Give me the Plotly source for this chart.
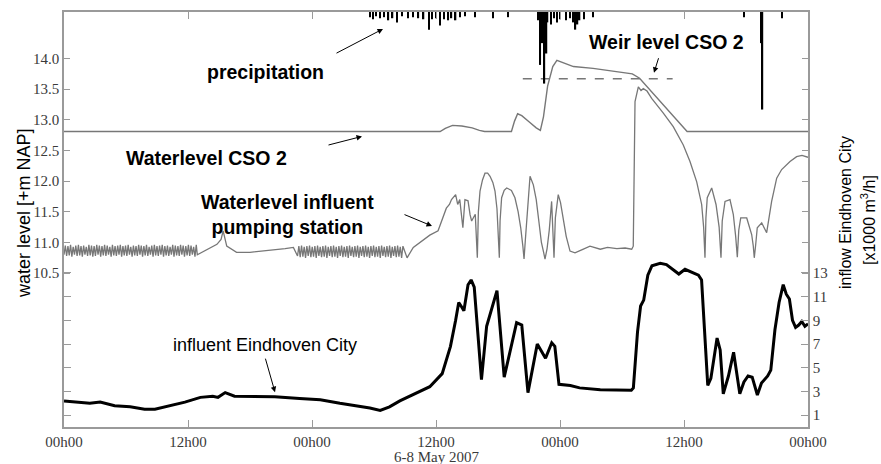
import plotly.graph_objects as go

# ---------------- data ----------------
# time axis in hours from 6 May 2007 00h00
tick_hours = [0, 12, 24, 36, 48, 60, 72]
tick_text = ["00h00", "12h00", "00h00", "12h00", "00h00", "12h00", "00h00"]
level_ticks = [10.5, 11.0, 11.5, 12.0, 12.5, 13.0, 13.5, 14.0]
inflow_ticks = [1, 3, 5, 7, 9, 11, 13]

# precipitation (mm per interval)
rain_t = [29.6, 29.9, 30.2, 30.6, 31.0, 31.4, 31.8, 32.2, 32.7, 33.3, 33.8, 34.3, 34.8,
          35.3, 35.6, 36.0, 36.4, 36.8, 37.2, 37.5, 37.9, 38.3, 38.8, 39.8, 41.5, 43.0,
          45.9, 46.1, 46.3, 46.5, 46.7, 46.8, 47.1, 47.4, 47.7, 48.0, 48.6, 49.0, 49.3,
          49.5, 49.7, 49.9, 50.3, 51.2, 65.8, 67.5, 67.6, 69.5]
rain_mm = [0.05, 0.07, 0.04, 0.06, 0.05, 0.08, 0.06, 0.10, 0.04, 0.06, 0.05, 0.06, 0.07,
           0.17, 0.07, 0.06, 0.13, 0.07, 0.08, 0.06, 0.08, 0.05, 0.04, 0.05, 0.06, 0.05,
           0.08, 0.51, 0.30, 0.69, 0.40, 0.10, 0.12, 0.06, 0.10, 0.07, 0.08, 0.06, 0.10,
           0.17, 0.12, 0.08, 0.07, 0.05, 0.05, 0.30, 0.94, 0.06]

# water level at CSO 2 [m NAP]
cso_t = [0, 36.4, 36.9, 37.6, 38.5, 39.5, 40.2, 40.7, 43.3, 43.6, 43.9, 44.3, 45.0, 45.7,
         46.1, 46.4, 46.8, 47.3, 47.7, 48.3, 49.3, 51.2, 53.0, 55.0, 55.7, 60.3, 72]
cso_lvl = [12.81, 12.81, 12.86, 12.91, 12.90, 12.87, 12.83, 12.81, 12.81, 12.98, 13.10,
           13.07, 12.97, 12.87, 12.83, 13.05, 13.55, 13.87, 13.97, 13.93, 13.87, 13.84,
           13.80, 13.75, 13.68, 12.81, 12.81]

# weir crest level CSO 2
weir_t = [44.4, 58.9]
weir_lvl = [13.67, 13.67]

# water level influent pumping station [m NAP]
# pump on/off cycling periods, logged at regular intervals
osc1_start, osc1_end = 0.0, 12.8
osc1_lvl = [10.80, 10.95, 10.78, 10.94, 10.79, 10.96, 10.77, 10.93, 10.80, 10.95, 10.78, 10.96,
            10.79, 10.94, 10.77, 10.95, 10.80, 10.93, 10.78, 10.96, 10.79, 10.95, 10.77, 10.94,
            10.78, 10.96, 10.80, 10.95, 10.77, 10.94, 10.79, 10.96, 10.78, 10.95, 10.80, 10.93,
            10.77, 10.96, 10.79, 10.94, 10.78, 10.95, 10.80, 10.96, 10.77, 10.94, 10.79, 10.95,
            10.78, 10.96, 10.80, 10.93, 10.77, 10.95, 10.79, 10.94, 10.78, 10.96, 10.80, 10.95,
            10.77, 10.94, 10.79, 10.96, 10.78, 10.93, 10.80, 10.95, 10.77, 10.96, 10.79, 10.94,
            10.78, 10.95, 10.80, 10.96, 10.77, 10.94, 10.79, 10.95, 10.78, 10.93, 10.80, 10.96,
            10.77, 10.95, 10.79, 10.94, 10.78, 10.96, 10.80, 10.95, 10.77, 10.94, 10.79, 10.96,
            10.78, 10.95, 10.80, 10.93, 10.77, 10.96]
osc2_start, osc2_end = 22.6, 32.8
osc2_lvl = [10.78, 10.94, 10.76, 10.95, 10.77, 10.93, 10.75, 10.94, 10.78, 10.95, 10.76, 10.93,
            10.77, 10.94, 10.75, 10.95, 10.78, 10.93, 10.76, 10.94, 10.77, 10.95, 10.75, 10.93,
            10.78, 10.94, 10.76, 10.95, 10.77, 10.93, 10.75, 10.94, 10.78, 10.95, 10.76, 10.93,
            10.77, 10.94, 10.75, 10.95, 10.78, 10.93, 10.76, 10.94, 10.77, 10.95, 10.75, 10.93,
            10.78, 10.94, 10.76, 10.95, 10.77, 10.93, 10.75, 10.94, 10.78, 10.95, 10.76, 10.93,
            10.77, 10.94, 10.75, 10.95, 10.78, 10.93, 10.76, 10.94, 10.77, 10.95, 10.75, 10.93,
            10.78, 10.94, 10.76, 10.95, 10.77, 10.93, 10.75, 10.94]
mid_t = [12.9, 14.0, 14.8, 15.2, 15.4, 15.75, 16.7, 18.0, 19.9, 21.4, 22.2]
mid_lvl = [10.80, 10.90, 10.97, 11.05, 11.19, 10.94, 10.84, 10.84, 10.87, 10.90, 10.92]
storm_t = [33.2, 33.8, 34.2, 34.8, 35.4, 36.2, 36.55, 37.0, 37.3, 37.5, 37.9, 38.1, 38.3,
           38.6, 38.8, 39.1, 39.3, 39.45, 39.8, 40.0, 40.1, 40.26, 40.5, 40.74, 41.0, 41.23,
           41.5, 41.71, 41.9, 42.05, 42.13, 42.2, 42.35, 42.6, 42.84, 43.3, 43.64, 43.95,
           44.2, 44.4, 44.52, 44.65, 44.84, 45.1, 45.42, 45.7, 45.95, 46.2, 46.4, 46.55,
           46.75, 46.96, 47.19, 47.3, 47.42, 47.55, 47.83, 48.05, 48.32, 48.6, 48.97, 49.45,
           50.1, 50.9, 51.9, 52.6, 53.5, 54.3, 54.94, 55.09, 55.26, 55.58, 55.84, 56.06,
           56.42, 56.87, 58.0, 58.96, 59.93, 60.58, 61.23, 61.71, 61.9, 62.03, 62.12, 62.25,
           62.68, 63.1, 63.4, 63.58, 63.7, 63.97, 64.45, 64.77, 65.0, 65.16, 65.3, 65.49,
           66.07, 66.55, 66.7, 66.8, 66.93, 67.09, 67.52, 68.0, 68.48, 68.97, 69.45, 70.26,
           70.9, 71.42, 72.0]
storm_lvl = [10.75, 10.92, 10.97, 11.05, 11.12, 11.19, 11.35, 11.56, 11.62, 11.70, 11.78,
             11.62, 11.70, 11.24, 11.70, 11.68, 11.45, 11.35, 11.46, 10.75, 11.50, 11.84,
             12.02, 12.13, 12.13, 12.08, 11.98, 11.84, 11.55, 11.10, 10.75, 11.35, 11.73,
             11.85, 11.89, 11.85, 11.73, 11.50, 11.24, 10.95, 10.73, 11.05, 11.51, 12.08,
             11.94, 11.70, 11.35, 11.00, 10.85, 10.73, 10.90, 11.20, 11.67, 11.25, 10.75,
             11.40, 11.78, 11.65, 11.40, 11.10, 10.86, 10.83, 10.88, 10.94, 10.89, 10.92,
             10.90, 10.91, 10.89, 10.94, 13.30, 13.54, 13.48, 13.51, 13.47, 13.35, 13.11,
             12.89, 12.59, 12.32, 11.99, 11.62, 11.25, 10.75, 11.40, 11.73, 11.89, 11.62,
             11.25, 10.75, 11.35, 11.67, 11.70, 11.46, 11.10, 10.76, 11.20, 11.40, 11.40,
             11.13, 10.95, 10.75, 10.95, 11.24, 11.32, 11.16, 11.67, 12.05, 12.19, 12.32,
             12.40, 12.42, 12.39]

# influent flow Eindhoven City [x1000 m3/h]
infl_t = [0, 1.06, 2.5, 3.5, 4.9, 6.4, 7.8, 8.8, 10.3, 11.7, 13.2, 14.4, 14.9, 15.6, 16.5,
          19.0, 20.4, 22.8, 24.8, 26.7, 28.2, 29.6, 30.6, 31.5, 32.5, 34.0, 35.4, 36.6,
          37.4, 37.9, 38.2, 38.5, 38.7, 39.1, 39.4, 39.7, 40.4, 40.9, 41.9, 42.6, 43.4,
          43.8, 44.3, 44.9, 45.8, 46.6, 47.2, 47.5, 47.9, 49.0, 49.9, 51.9, 54.9, 55.1,
          55.5, 55.8, 56.1, 56.5, 56.9, 57.7, 58.3, 59.1, 59.5, 60.1, 60.8, 61.4, 61.7,
          62.3, 62.6, 63.2, 63.5, 63.8, 64.3, 64.8, 65.4, 65.8, 66.2, 66.6, 67.1, 67.5,
          68.1, 68.4, 68.8, 69.2, 69.6, 69.9, 70.2, 70.5, 70.8, 71.1, 71.4, 71.7, 72.0]
infl_q = [2.2, 2.1, 2.0, 2.1, 1.8, 1.7, 1.5, 1.5, 1.8, 2.1, 2.5, 2.6, 2.5, 2.9, 2.6,
          2.6, 2.55, 2.4, 2.3, 2.0, 1.8, 1.6, 1.4, 1.7, 2.2, 2.8, 3.4, 4.5,
          6.8, 9.0, 10.5, 10.1, 9.8, 12.0, 12.4, 11.8, 4.0, 8.5, 11.5, 4.2, 7.2,
          8.8, 8.6, 2.9, 7.0, 5.8, 7.1, 6.8, 3.6, 3.5, 3.3, 3.15, 3.1, 3.3,
          8.0, 10.2, 10.7, 12.8, 13.6, 13.8, 13.7, 13.2, 12.9, 13.3, 13.0, 12.8, 12.4,
          3.5, 4.1, 7.5, 6.5, 2.8, 4.3, 6.3, 2.8, 3.8, 4.3, 4.2, 2.7, 3.7,
          4.3, 4.8, 8.2, 10.5, 12.0, 11.2, 10.8, 9.0, 8.4, 8.6, 8.9, 8.5, 8.7]


def spread(start, end, values):
    n = len(values)
    return [start + i * (end - start) / (n - 1) for i in range(n)]


pump_t = spread(osc1_start, osc1_end, osc1_lvl) + mid_t + spread(osc2_start, osc2_end, osc2_lvl) + storm_t
pump_lvl = osc1_lvl + mid_lvl + osc2_lvl + storm_lvl

# ---------------- figure ----------------
W, H = 881, 464
L, R, T, B = 64, 73, 10, 37
PW, PH = W - L - R, H - T - B

GREY = "#777777"
AXIS = "#9a9a9a"
TICKFONT = dict(family="Liberation Serif", size=15, color="#3a3a3a")
SANS = "Liberation Sans, Arial"

fig = go.Figure()
fig.add_trace(go.Scatter(x=infl_t, y=infl_q, yaxis="y2", mode="lines",
                         line=dict(color="black", width=3), hoverinfo="skip"))
fig.add_trace(go.Scatter(x=pump_t, y=pump_lvl, mode="lines",
                         line=dict(color=GREY, width=1.3), hoverinfo="skip"))
fig.add_trace(go.Scatter(x=cso_t, y=cso_lvl, mode="lines",
                         line=dict(color=GREY, width=1.4), hoverinfo="skip"))
fig.add_trace(go.Scatter(x=weir_t, y=weir_lvl, mode="lines",
                         line=dict(color=GREY, width=1.4, dash="dash"), hoverinfo="skip"))
fig.add_trace(go.Bar(x=rain_t, y=rain_mm, yaxis="y3", width=0.13,
                     marker=dict(color="black", line=dict(width=0)), hoverinfo="skip"))


def px(xp, yp):
    """pixel position -> paper coordinates"""
    return (xp - L) / PW, (T + PH - yp) / PH


annotations = []


def label(text, xp, yp, size=19.5, bold=True, **kw):
    x, y = px(xp, yp)
    t = f"<b>{text}</b>" if bold else text
    annotations.append(dict(text=t, x=x, y=y, xref="paper", yref="paper", showarrow=False,
                            font=dict(family=SANS, size=size, color="black"),
                            xanchor="center", yanchor="middle", **kw))


def arrow(x_tail, y_tail, x_head, y_head):
    x, y = px(x_head, y_head)
    annotations.append(dict(text="", x=x, y=y, xref="paper", yref="paper", showarrow=True,
                            ax=x_tail - x_head, ay=y_tail - y_head, axref="pixel", ayref="pixel",
                            arrowhead=2, arrowsize=1.1, arrowwidth=1, arrowcolor="black"))


label("precipitation", 265, 70)
arrow(335, 52, 383, 27)
label("Waterlevel CSO 2", 206, 157)
arrow(327, 144, 362, 135)
label("Waterlevel influent<br>pumping station", 287, 213, align="center")
arrow(403, 213, 432, 225)
label("Weir level CSO 2", 666, 40)
arrow(659, 55, 654, 71)
label("influent Eindhoven City", 265, 345, size=18, bold=False)
arrow(265, 357, 275, 392)

# axis titles
label("water level [+m NAP]", 24, 212, size=18, bold=False, textangle=-90)
label("inflow Eindhoven City", 845, 212, size=16, bold=False, textangle=-90)
label("[x1000 m<sup>3</sup>/h]", 868, 219, size=16, bold=False, textangle=-90)
x0, y0 = px(436, 457.5)
annotations.append(dict(text="6-8 May 2007", x=x0, y=y0, xref="paper", yref="paper",
                        showarrow=False, font=TICKFONT, xanchor="center", yanchor="middle"))

axis_common = dict(showline=True, linecolor=AXIS, linewidth=1.6, ticks="inside",
                   tickcolor=AXIS, tickwidth=1.3, showgrid=False, zeroline=False,
                   tickfont=TICKFONT, mirror="ticks")

fig.update_layout(
    width=W, height=H,
    margin=dict(l=L, r=R, t=T, b=B, pad=0),
    paper_bgcolor="white", plot_bgcolor="white",
    showlegend=False,
    xaxis=dict(range=[0, 72], tickvals=tick_hours, ticktext=tick_text, ticklen=7, **axis_common),
    yaxis=dict(range=[7.99, 14.76], tickvals=level_ticks,
               ticktext=[f"{v:.1f}" for v in level_ticks], ticklen=6, **axis_common),
    yaxis2=dict(range=[0, 35], tickvals=inflow_ticks, ticktext=[str(v) for v in inflow_ticks],
                overlaying="y", side="right", ticklen=7, **axis_common),
    yaxis3=dict(range=[4, 0], overlaying="y", visible=False),
    annotations=annotations,
)

fig.write_html("out.html")
